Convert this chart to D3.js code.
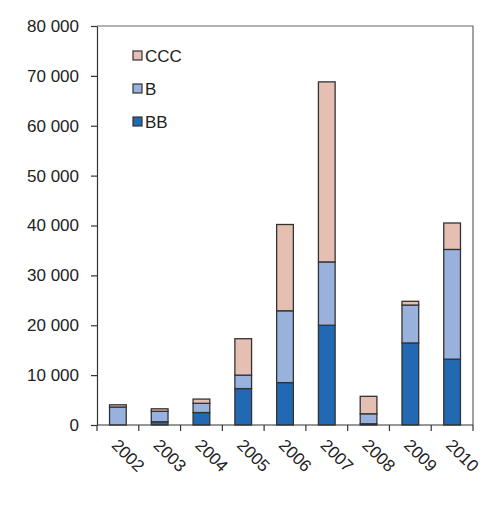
<!DOCTYPE html>
<html>
<head>
<meta charset="utf-8">
<script src="https://cdn.jsdelivr.net/npm/d3@7"></script>
<style>
  body { margin: 0; background: #fff; }
  svg text { font-family: "Liberation Sans", Arial, sans-serif; fill: #222; }
</style>
</head>
<body>
<div id="chart"></div>
<script>
// data
var years = ["2002", "2003", "2004", "2005", "2006", "2007", "2008", "2009", "2010"];
var seriesNames = ["BB", "B", "CCC"];
var bbValues  = [0, 650, 2500, 7300, 8500, 20000, 250, 16450, 13200];
var bValues   = [3600, 2100, 1850, 2700, 14400, 12700, 2000, 7600, 22000];
var cccValues = [450, 500, 850, 7300, 17300, 36100, 3500, 750, 5300];
var yTicks = [0, 10000, 20000, 30000, 40000, 50000, 60000, 70000, 80000];

var colors = { BB: "#2169b3", B: "#98b1dd", CCC: "#e6bfb3" };

var width = 500, height = 515;
var margin = { top: 26, right: 27, bottom: 90, left: 97 };

var svg = d3.select("#chart").append("svg")
    .attr("width", width)
    .attr("height", height);

var rows = years.map(function(y, i) {
  return { year: y, BB: bbValues[i], B: bValues[i], CCC: cccValues[i] };
});
var stacked = d3.stack().keys(seriesNames)(rows);

var x = d3.scaleBand()
    .domain(years)
    .range([margin.left, width - margin.right])
    .paddingInner(0.6)
    .paddingOuter(0.3);

var y = d3.scaleLinear()
    .domain([0, 80000])
    .range([height - margin.bottom, margin.top]);

// box top/right
svg.append("path")
    .attr("d", "M" + margin.left + "," + margin.top + "H" + (width - margin.right) + "V" + (height - margin.bottom))
    .attr("fill", "none")
    .attr("stroke", "#666")
    .attr("stroke-width", 1.2);

// bars
svg.append("g").selectAll("g")
    .data(stacked)
    .enter().append("g")
    .attr("fill", function(d) { return colors[d.key]; })
    .selectAll("rect")
    .data(function(d) { return d; })
    .enter().append("rect")
    .attr("x", function(d) { return x(d.data.year); })
    .attr("width", x.bandwidth())
    .attr("y", function(d) { return y(d[1]); })
    .attr("height", function(d) { return y(d[0]) - y(d[1]); })
    .attr("stroke", "#333")
    .attr("stroke-width", 1.3);

// y axis
var fmt = function(d) { return d3.format(",")(d).replace(/,/g, " "); };
var yAxis = svg.append("g")
    .attr("transform", "translate(" + margin.left + ",0)")
    .call(d3.axisLeft(y).tickValues(yTicks).tickFormat(fmt).tickSize(6).tickSizeOuter(0).tickPadding(12));
yAxis.select(".domain").attr("stroke", "#333").attr("stroke-width", 1.2);
yAxis.selectAll(".tick line").attr("stroke", "#333").attr("stroke-width", 1.2);
yAxis.selectAll("text").style("font-size", "17px").attr("fill", "#222");

// x axis: ticks at band edges
var edges = d3.range(years.length + 1).map(function(i) { return margin.left + i * (width - margin.left - margin.right) / years.length; });
var xg = svg.append("g");
xg.append("line")
    .attr("x1", margin.left).attr("x2", width - margin.right)
    .attr("y1", y(0)).attr("y2", y(0))
    .attr("stroke", "#333").attr("stroke-width", 1.2);
xg.selectAll("line.tk")
    .data(edges)
    .enter().append("line")
    .attr("class", "tk")
    .attr("x1", function(d) { return d; }).attr("x2", function(d) { return d; })
    .attr("y1", y(0)).attr("y2", y(0) + 6)
    .attr("stroke", "#333").attr("stroke-width", 1.2);
xg.selectAll("text")
    .data(years)
    .enter().append("text")
    .attr("transform", function(d) {
      return "translate(" + (x(d) + x.bandwidth() / 2 - 3) + "," + (y(0) + 17) + ") rotate(45)";
    })
    .attr("text-anchor", "start")
    .attr("dy", "0.35em")
    .style("font-size", "17px")
    .text(function(d) { return d; });

// legend
var legendOrder = ["CCC", "B", "BB"];
var lg = svg.append("g").attr("transform", "translate(133,51)");
var items = lg.selectAll("g")
    .data(legendOrder)
    .enter().append("g")
    .attr("transform", function(d, i) { return "translate(0," + i * 33 + ")"; });
items.append("rect")
    .attr("width", 9).attr("height", 9)
    .attr("fill", function(d) { return colors[d]; })
    .attr("stroke", "#333").attr("stroke-width", 1.2);
items.append("text")
    .attr("x", 12).attr("y", 5)
    .attr("dy", "0.35em")
    .style("font-size", "17px")
    .text(function(d) { return d; });
</script>
</body>
</html>
